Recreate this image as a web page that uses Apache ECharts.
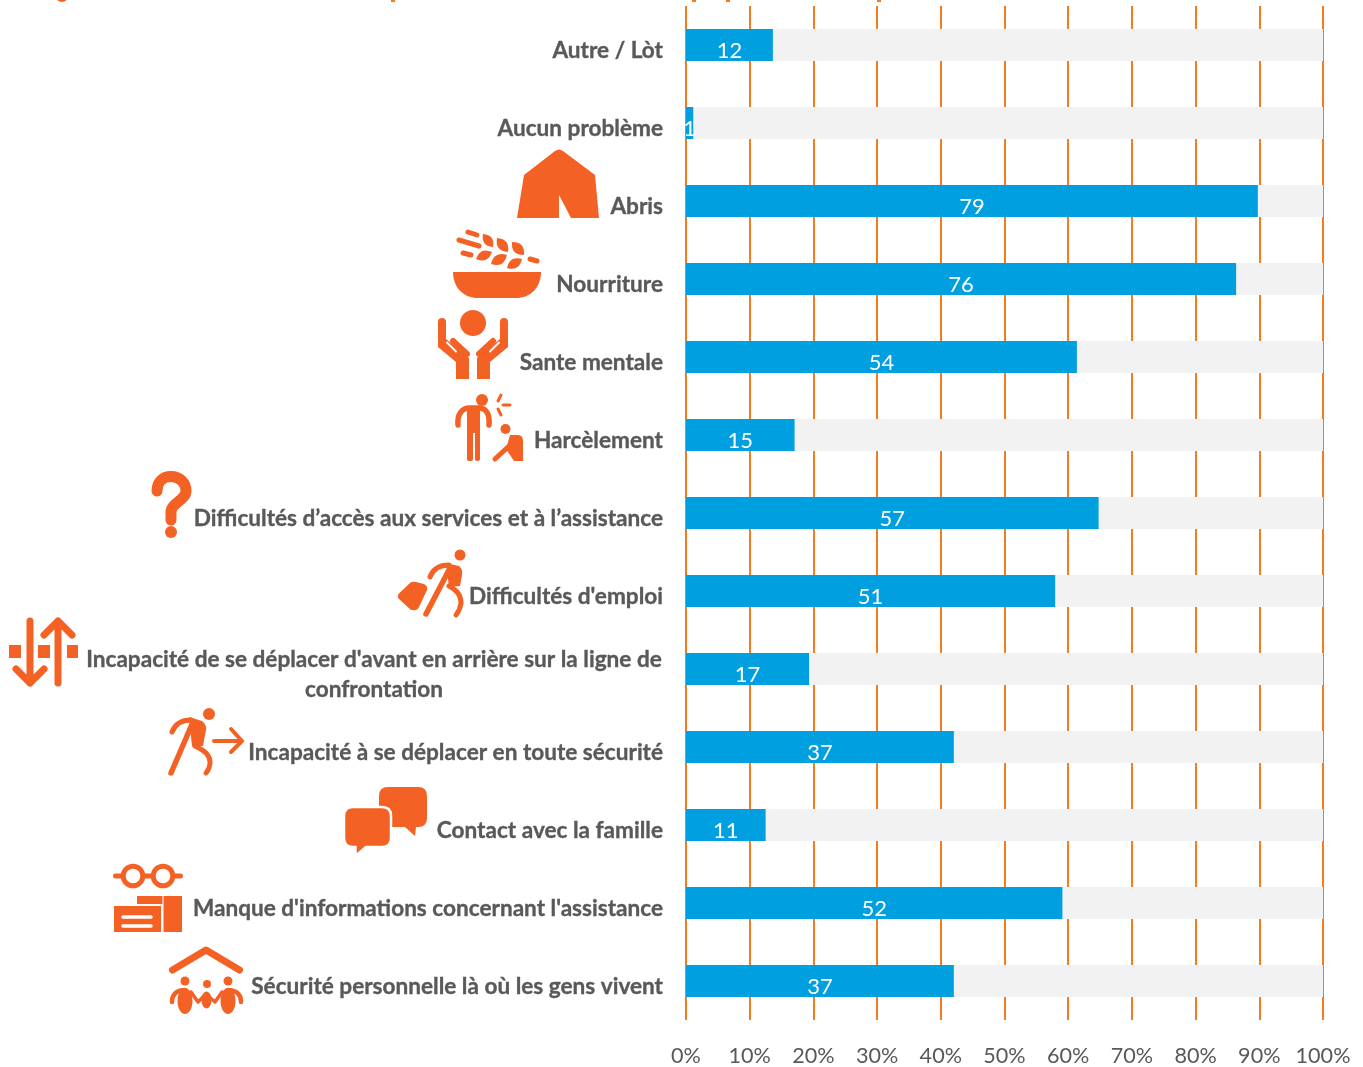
<!DOCTYPE html>
<html><head><meta charset="utf-8">
<style>html,body{margin:0;padding:0;background:#fff}#c{width:1363px;height:1067px}</style>
<script src="https://cdn.jsdelivr.net/npm/echarts@6/dist/echarts.min.js"></script>
</head><body><div id="c"></div>
<script>
const categories = [
  'Autre / Lòt','Aucun problème','Abris','Nourriture','Sante mentale','Harcèlement',
  'Difficultés d’accès aux services et à l’assistance','Difficultés d\'emploi',
  'Incapacité de se déplacer d\'avant en arrière sur la ligne de\nconfrontation',
  'Incapacité à se déplacer en toute sécurité','Contact avec la famille',
  'Manque d\'informations concernant l\'assistance','Sécurité personnelle là où les gens vivent'
];
const counts = [12,1,79,76,54,15,57,51,17,37,11,52,37];
const respondents = 88;
const tickStep = 8.8;

const ORANGE = '#F46125';
const FONT = 'Lato, "Open Sans", sans-serif';
const g = [];
let shapeId = 0;
const pathType = d => {
  const name = 'iconShape' + (shapeId++);
  echarts.graphic.registerShape(name, echarts.graphic.extendPath(d, {}));
  return name;
};
const fillP = (d, z) => g.push({type:pathType(d), style:{fill:ORANGE}, z:z||10, silent:true});
const strokeP = (d, w) => g.push({type:pathType(d), style:{fill:'none', stroke:ORANGE, lineWidth:w, lineCap:'round', lineJoin:'round'}, z:10, silent:true});
const dot = (x,y,r) => g.push({type:'circle', shape:{cx:x,cy:y,r:r}, style:{fill:ORANGE}, z:10, silent:true});
const box = (x,y,w,h,fill,stroke) => g.push({type:'rect', shape:{x,y,width:w,height:h}, style:{fill:fill||ORANGE, stroke:stroke||null, lineWidth:stroke?2:0}, z:11, silent:true});
const whiteLine = (x1,y1,x2,y2,w) => g.push({type:'line', shape:{x1,y1,x2,y2}, style:{stroke:'#fff', lineWidth:w, lineCap:'round'}, z:12, silent:true});
const leaf = (x1,y1,x2,y2,b) => {
  const mx=(x1+x2)/2,my=(y1+y2)/2,dx=x2-x1,dy=y2-y1;
  const nx=-dy*b,ny=dx*b;
  fillP(`M${x1} ${y1} Q${mx+nx} ${my+ny} ${x2} ${y2} Q${mx-nx} ${my-ny} ${x1} ${y1} Z`);
};

// tent
fillP('M517 218 L524 175 L555 151 Q559 148 563 151 L595 175 L599 218 L571 218 L559 195 L559 218 Z');
// food
fillP('M453 272 H541 C541 288 530 298 516 298 H478 C464 298 453 288 453 272 Z');
strokeP('M459 240 L479 246',5); strokeP('M468 232 L477 235',5); strokeP('M463 253 L471 255',5); strokeP('M530 259 L537 261',5);
leaf(483,234,493,247,.55); leaf(497,238,508,252,.55); leaf(512,242,524,255,.55);
leaf(476,259,492,252,.55); leaf(491,264,507,255,.55); leaf(507,268,522,259,.55);
// hands
dot(473,323,13);
[0,1].forEach(m=>{
  const X=x=>m?946-x:x;
  fillP(`M${X(438)} 322 Q${X(438)} 318 ${X(442)} 318 Q${X(446)} 318 ${X(446)} 322 L${X(446)} 339 L${X(469)} 358 L${X(469)} 379 L${X(456)} 379 L${X(456)} 362 L${X(438)} 347 Z`);
  strokeP(`M${X(453)} 341 L${X(467)} 354`,6);
  whiteLine(X(447),342.5,X(456),351.5,1.8);
});
// harassment
dot(482,400,6);
strokeP('M458 425 C457 414 462 408 470 408 H479 C486 408 490 414 489 425',5.5);
fillP('M467 408 H480 V459 Q480 461 477 461 Q475 461 475 459 V433 H473 V459 Q473 461 470 461 Q467 461 467 459 Z');
strokeP('M501 395 L498 401',3); strokeP('M503 405 L510 405',3); strokeP('M498 409 L501 415',3);
dot(505.5,429,5);
fillP('M510 435 H518 Q523 435 523 441 V461 H514 L506 449 Z');
strokeP('M508 447 L495 459',5);
// question
strokeP('M157 491 C157 482 163 476.5 171 476.5 C180 476.5 186 483 186 491 C186 500 171 503 171 512 V520',11);
dot(171,532,6);
// traveller with suitcase
dot(460,555,5.5);
fillP('M398.5 594 L410 583 Q412 581 416 582 L424 584 Q428 586 427 590 L419 607 Q417 611 413 610 L411 610 L399 599 Q397 597 398.5 594 Z');
strokeP('M430 577 C433 569 439 565 449 565',5);
fillP('M446 563 L459 566 Q463 569 462 575 L460 586 L449 587 Z');
strokeP('M449 570 L426 614',5.5);
strokeP('M449 586 C457 590 461 596 461 603 Q460 610 456 615',5);
// arrows
strokeP('M30 621 V683 M16 669 L30 683 L44 669',7);
strokeP('M58 683 V621 M44 635 L58 621 L72 635',7);
box(9,645,12,13); box(38,645,12,13); box(67,645,11,13);
// runner with arrow
dot(209,714,6);
strokeP('M172 732 C175 724 181 720 191 720',5);
fillP('M189 717 L202 721 Q207 725 206 730 L203 746 L192 746 Z');
strokeP('M193 722 L171 773',5.5);
strokeP('M195 746 C204 750 210 756 210 762 Q210 768 206 773',5);
strokeP('M214 741 H242 M231 729 L242 741 L231 752',4);
// speech bubbles
fillP('M388 787 H418 Q427 787 427 796 V818 Q427 827 418 827 H416 L415 836 L405 827 H388 Q379 827 379 818 V796 Q379 787 388 787 Z');
g.push({type:pathType('M353 807 H382 Q391 807 391 816 V838 Q391 847 382 847 H366 L355.5 856 V847 H353 Q344 847 344 838 V816 Q344 807 353 807 Z'), style:{fill:ORANGE, stroke:'#fff', lineWidth:2.5}, z:11, silent:true});
// glasses and documents
strokeP('M115.5 876 H180.5',5);
[133,163].forEach(x=>g.push({type:'circle', shape:{cx:x,cy:876,r:9.8}, style:{fill:'#fff', stroke:ORANGE, lineWidth:5}, z:11, silent:true}));
box(137,896,45,36);
whiteLine(163,896,163,932,1);
box(113,905,49,28,ORANGE,'#fff');
whiteLine(123,917,151,917,3.5);
whiteLine(123,926,151,926,3.5);
// family
strokeP('M172.5 970 L206 950 L239.5 970',7);
dot(185,981,4.5); dot(228,981,4.5); dot(207,984,4);
g.push({type:'ellipse', shape:{cx:185,cy:1001,rx:7.5,ry:13}, style:{fill:ORANGE}, z:10, silent:true});
g.push({type:'ellipse', shape:{cx:228,cy:1001,rx:7.5,ry:13}, style:{fill:ORANGE}, z:10, silent:true});
g.push({type:'ellipse', shape:{cx:206.5,cy:1000,rx:5,ry:8.5}, style:{fill:ORANGE}, z:10, silent:true});
strokeP('M172 1002 C172 994 177 990 185 990',4.5);
strokeP('M241 1002 C241 994 236 990 228 990',4.5);
strokeP('M191 992 L198 1002 L206 994 L215 1002 L222 992',3.5);
// clipped bottoms of the cut-off title
dot(62,-4,6);
[[391,0],[692,0],[726,0],[877,0]].forEach(([x,y])=>g.push({type:'rect', shape:{x:x,y:y,width:4,height:2}, style:{fill:'#F47B20'}, z:10, silent:true}));

const chart = echarts.init(document.getElementById('c'), null, {renderer:'canvas'});
const catStyle = {color:'#595959',fontFamily:FONT,fontWeight:'bold',fontSize:22.6,textBorderColor:'#595959',textBorderWidth:0.35};
chart.setOption({
  animation:false,
  backgroundColor:'#fff',
  grid:{left:686,right:40,top:6,bottom:47,containLabel:false},
  xAxis:{type:'value',min:0,max:respondents,interval:tickStep,
    axisLine:{show:false},axisTick:{show:false},
    splitLine:{show:true,lineStyle:{color:'#F47B20',width:2}},
    axisLabel:{margin:25,color:'#595959',fontFamily:FONT,fontSize:21.6,showMinLabel:true,showMaxLabel:true,
      formatter:v=>Math.round(v/respondents*100)+'%'}},
  yAxis:{type:'category',inverse:true,data:categories,
    axisLine:{show:false},axisTick:{show:false},
    axisLabel:Object.assign({margin:23,padding:[12,0,0,0],interval:0,lineHeight:30,
      formatter:v=>v.includes('\n')?v.split('\n').map(s=>'{c|'+s+'}').join('\n'):v,
      rich:{c:Object.assign({width:578,align:'center',lineHeight:30},catStyle)}},catStyle)},
  series:[{type:'bar',data:counts,barWidth:32,z:5,
    showBackground:true,backgroundStyle:{color:'#F2F2F2'},
    itemStyle:{color:'#009FDF'},
    label:{show:true,position:'inside',offset:[0,6],color:'#fff',fontFamily:FONT,fontSize:22}}],
  graphic:g
});
</script></body></html>
